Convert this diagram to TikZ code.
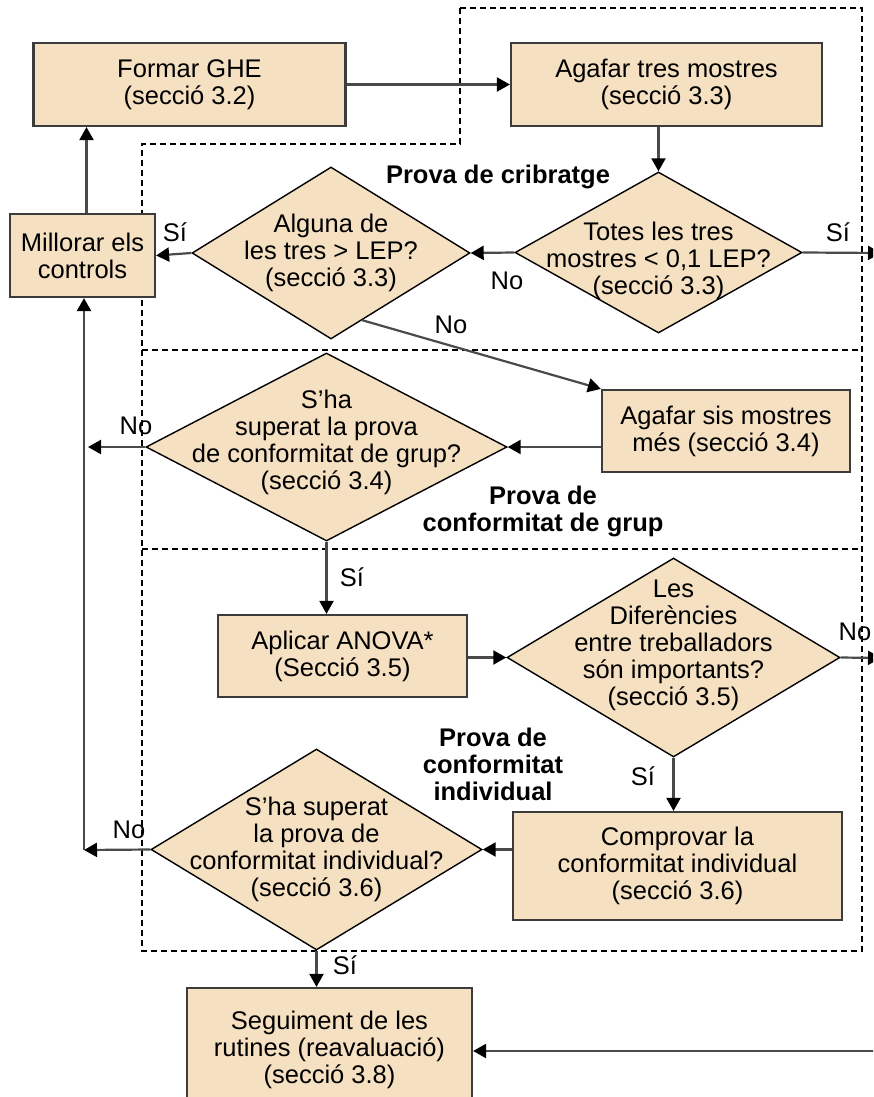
\documentclass[tikz,border=0pt]{standalone}
\usepackage{fontspec}
\setmainfont{Liberation Sans}
\usetikzlibrary{shapes.geometric, arrows.meta}

\definecolor{panel}{HTML}{F5E0C2}
\definecolor{frame}{HTML}{3C3C3C}
\definecolor{wire}{HTML}{4A4A4A}

\begin{document}
\begin{tikzpicture}[
  x=1pt, y=-1pt,
  line join=miter,
  every node/.style={font=\fontsize{25.5}{27}\selectfont, inner sep=1.5pt},
  stage/.style={draw=frame, fill=panel, line width=2.2pt, align=center, inner sep=0pt},
  decision/.style={diamond, draw=black, fill=panel, line width=1.4pt, inner sep=0pt},
  question/.style={align=center, inner sep=0pt},
  heading/.style={font=\fontsize{25.5}{27}\selectfont\bfseries, align=center, inner sep=0pt},
  answer/.style={inner sep=0pt},
  flow/.style={draw=wire, line width=2.2pt, -{Triangle[length=13pt, width=14pt, color=black]}},
  region/.style={draw=black, line width=1.5pt, dash pattern=on 6pt off 4pt},
]
\useasboundingbox (0,0) rectangle (873,1097);
\clip (0,0) rectangle (873,1097);

\draw[region] (460,8) -- (862,8) -- (862,951) -- (142,951) -- (142,144) -- (460,144) -- cycle;
\draw[region] (142,350) -- (862,350);
\draw[region] (142,549) -- (862,549);

\node[stage, minimum width=312pt, minimum height=83pt] (ghe) at (189.5,84.5) {Formar GHE\\(secció 3.2)};
\node[stage, minimum width=311pt, minimum height=83pt] (tres) at (666.5,84.5) {Agafar tres mostres\\(secció 3.3)};
\node[stage, minimum width=145pt, minimum height=83pt] (millorar) at (82.5,255.5) {Millorar els\\controls};
\node[decision, minimum width=287pt, minimum height=161pt] (totes) at (658.5,252.5) {};
\node[question] (totestxt) at ([yshift=-8pt]totes) {Totes les tres\\mostres < 0,1 LEP?\\(secció 3.3)};
\node[decision, minimum width=278pt, minimum height=172pt] (alguna) at (331,253) {};
\node[question] (algunatxt) at (alguna) {Alguna de\\les tres > LEP?\\(secció 3.3)};
\node[stage, minimum width=248pt, minimum height=82pt] (sis) at (726,431) {Agafar sis mostres\\més (secció 3.4)};
\node[decision, minimum width=361pt, minimum height=188pt] (grup) at (326.5,447) {};
\node[question] (gruptxt) at ([yshift=5pt]grup) {S’ha\\superat la prova\\de conformitat de grup?\\(secció 3.4)};
\node[stage, minimum width=249pt, minimum height=82pt] (anova) at (342.5,656) {Aplicar ANOVA*\\(Secció 3.5)};
\node[decision, minimum width=333pt, minimum height=199pt] (dif) at (673.5,657.5) {};
\node[question] (diftxt) at ([yshift=12pt]dif) {Les\\Diferències\\entre treballadors\\són importants?\\(secció 3.5)};
\node[stage, minimum width=329pt, minimum height=108pt] (comprovar) at (677.5,866) {Comprovar la\\conformitat individual\\(secció 3.6)};
\node[decision, minimum width=331pt, minimum height=201pt] (indiv) at (316.5,849.5) {};
\node[question] (indivtxt) at (indiv) {S’ha superat\\la prova de\\conformitat individual?\\(secció 3.6)};
\node[stage, minimum width=285pt, minimum height=124pt] (seguiment) at (329.5,1050) {Seguiment de les\\rutines (reavaluació)\\(secció 3.8)};

\node[heading] (cribratge) at (498,177) {Prova de cribratge};
\node[heading] (grupttl) at (543,511) {Prova de\\conformitat de grup};
\node[heading] (indivttl) at (493,764) {Prova de\\conformitat\\individual};

\node[answer] (sia) at (838,232) {Sí};
\node[answer] (noa) at (507,281) {No};
\node[answer] (sib) at (175,232) {Sí};
\node[answer] (nob) at (451,325) {No};
\node[answer] (noc) at (136,426) {No};
\node[answer] (sic) at (352,577) {Sí};
\node[answer] (nod) at (855,632) {No};
\node[answer] (sid) at (643,776) {Sí};
\node[answer] (noe) at (129,830) {No};
\node[answer] (sie) at (345,965) {Sí};

\coordinate (outa) at (881,253);
\coordinate (outb) at (881,658);
\coordinate (inc) at (885,1051);
\coordinate (backgrup) at (88,447);
\coordinate (back) at (84,850);

\draw[flow] (ghe) -- (tres);
\draw[flow] (tres.south -| totes.north) -- (totes.north);
\draw[flow] (totes.west) -- (alguna.east);
\draw[flow] (totes.east) -- (outa);
\draw[flow] (alguna.west) -- (millorar.east);
\draw[flow] ([xshift=4pt]millorar.north) -- ([xshift=4pt]millorar.north |- ghe.south);
\draw[flow] (alguna.-65) -- (sis.north west);
\draw[flow] (sis.west |- grup.east) -- (grup.east);
\draw[flow] (grup.west) -- (backgrup);
\draw[flow] (grup.south) -- (grup.south |- anova.north);
\draw[flow] (anova.east |- dif.west) -- (dif.west);
\draw[flow] (dif.east) -- (outb);
\draw[flow] (dif.south) -- (dif.south |- comprovar.north);
\draw[flow] (comprovar.west |- indiv.east) -- (indiv.east);
\draw[flow] (indiv.west) -- (back);
\draw[flow] (back) -- (back |- millorar.south);
\draw[flow] (indiv.south) -- (indiv.south |- seguiment.north);
\draw[flow] (inc) -- (seguiment.east |- inc);
\end{tikzpicture}
\end{document}
